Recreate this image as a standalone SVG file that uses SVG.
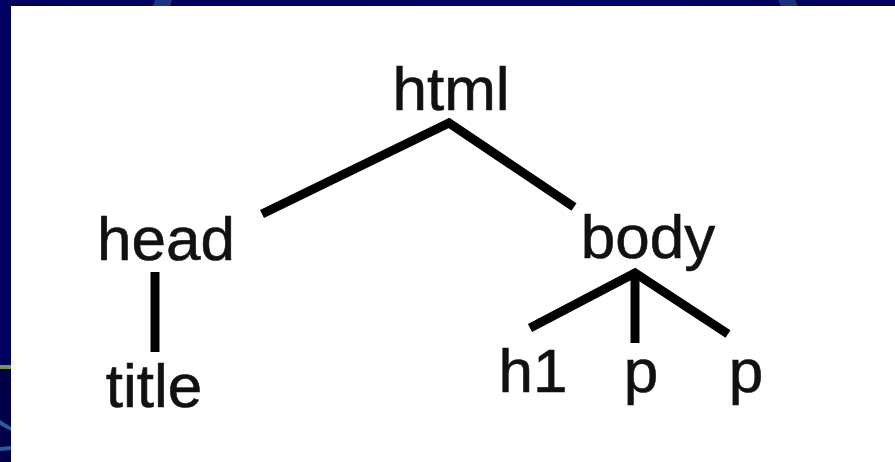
<svg xmlns="http://www.w3.org/2000/svg" width="895" height="462" viewBox="0 0 895 462">
  <style>
    .lbl { font-family: "Liberation Sans", Arial, sans-serif; font-size: 62px; fill: #111; stroke: #111; stroke-width: 0.6; text-anchor: middle; }
    .edge { stroke: #000; stroke-width: 9; fill: none; stroke-linecap: butt; stroke-linejoin: miter; }
  </style>
  <defs>
    <linearGradient id="topband" x1="0" y1="0" x2="1" y2="0">
      <stop offset="0" stop-color="#00005c"/>
      <stop offset="0.55" stop-color="#000068"/>
      <stop offset="0.7" stop-color="#00006a"/>
      <stop offset="1" stop-color="#000058"/>
    </linearGradient>
  </defs>
  <rect x="0" y="0" width="895" height="462" fill="#ffffff"/>
  <!-- frame -->
  <rect x="0" y="0" width="895" height="6" fill="url(#topband)"/>
  <rect x="0" y="0" width="11" height="462" fill="#000060"/>
  <rect x="0" y="365" width="11" height="4" fill="#6f9a50"/>
  <rect x="0" y="369" width="11" height="93" fill="#000048"/>
  <polygon points="155,0 172,0 170,6 153,6" fill="#1b3580"/>
  <polygon points="778,0 795,0 798,6 781,6" fill="#1b2f7a"/>
  <polygon points="0,420 11,427 11,431 0,425" fill="#2a5aa0"/>
  <polygon points="0,447 11,446 11,450 0,451" fill="#2a5aa0"/>

  <g id="connectors">
    <polyline class="edge" points="262,214 449,123 574,207"/>
    <line class="edge" x1="155" y1="272" x2="155" y2="352"/>
    <polyline class="edge" points="530,328 635,273 728,334"/>
    <line class="edge" x1="635" y1="272" x2="635" y2="343"/>
  </g>

  <g id="node-html"><text class="lbl" x="451" y="110">html</text></g>
  <g id="node-head"><text class="lbl" x="166" y="260">head</text></g>
  <g id="node-body"><text class="lbl" x="648" y="258">body</text></g>
  <g id="node-title"><text class="lbl" x="154" y="407">title</text></g>
  <g id="node-h1"><text class="lbl" x="533" y="392">h1</text></g>
  <g id="node-p1"><text class="lbl" x="641" y="392">p</text></g>
  <g id="node-p2"><text class="lbl" x="746" y="392">p</text></g>
</svg>
